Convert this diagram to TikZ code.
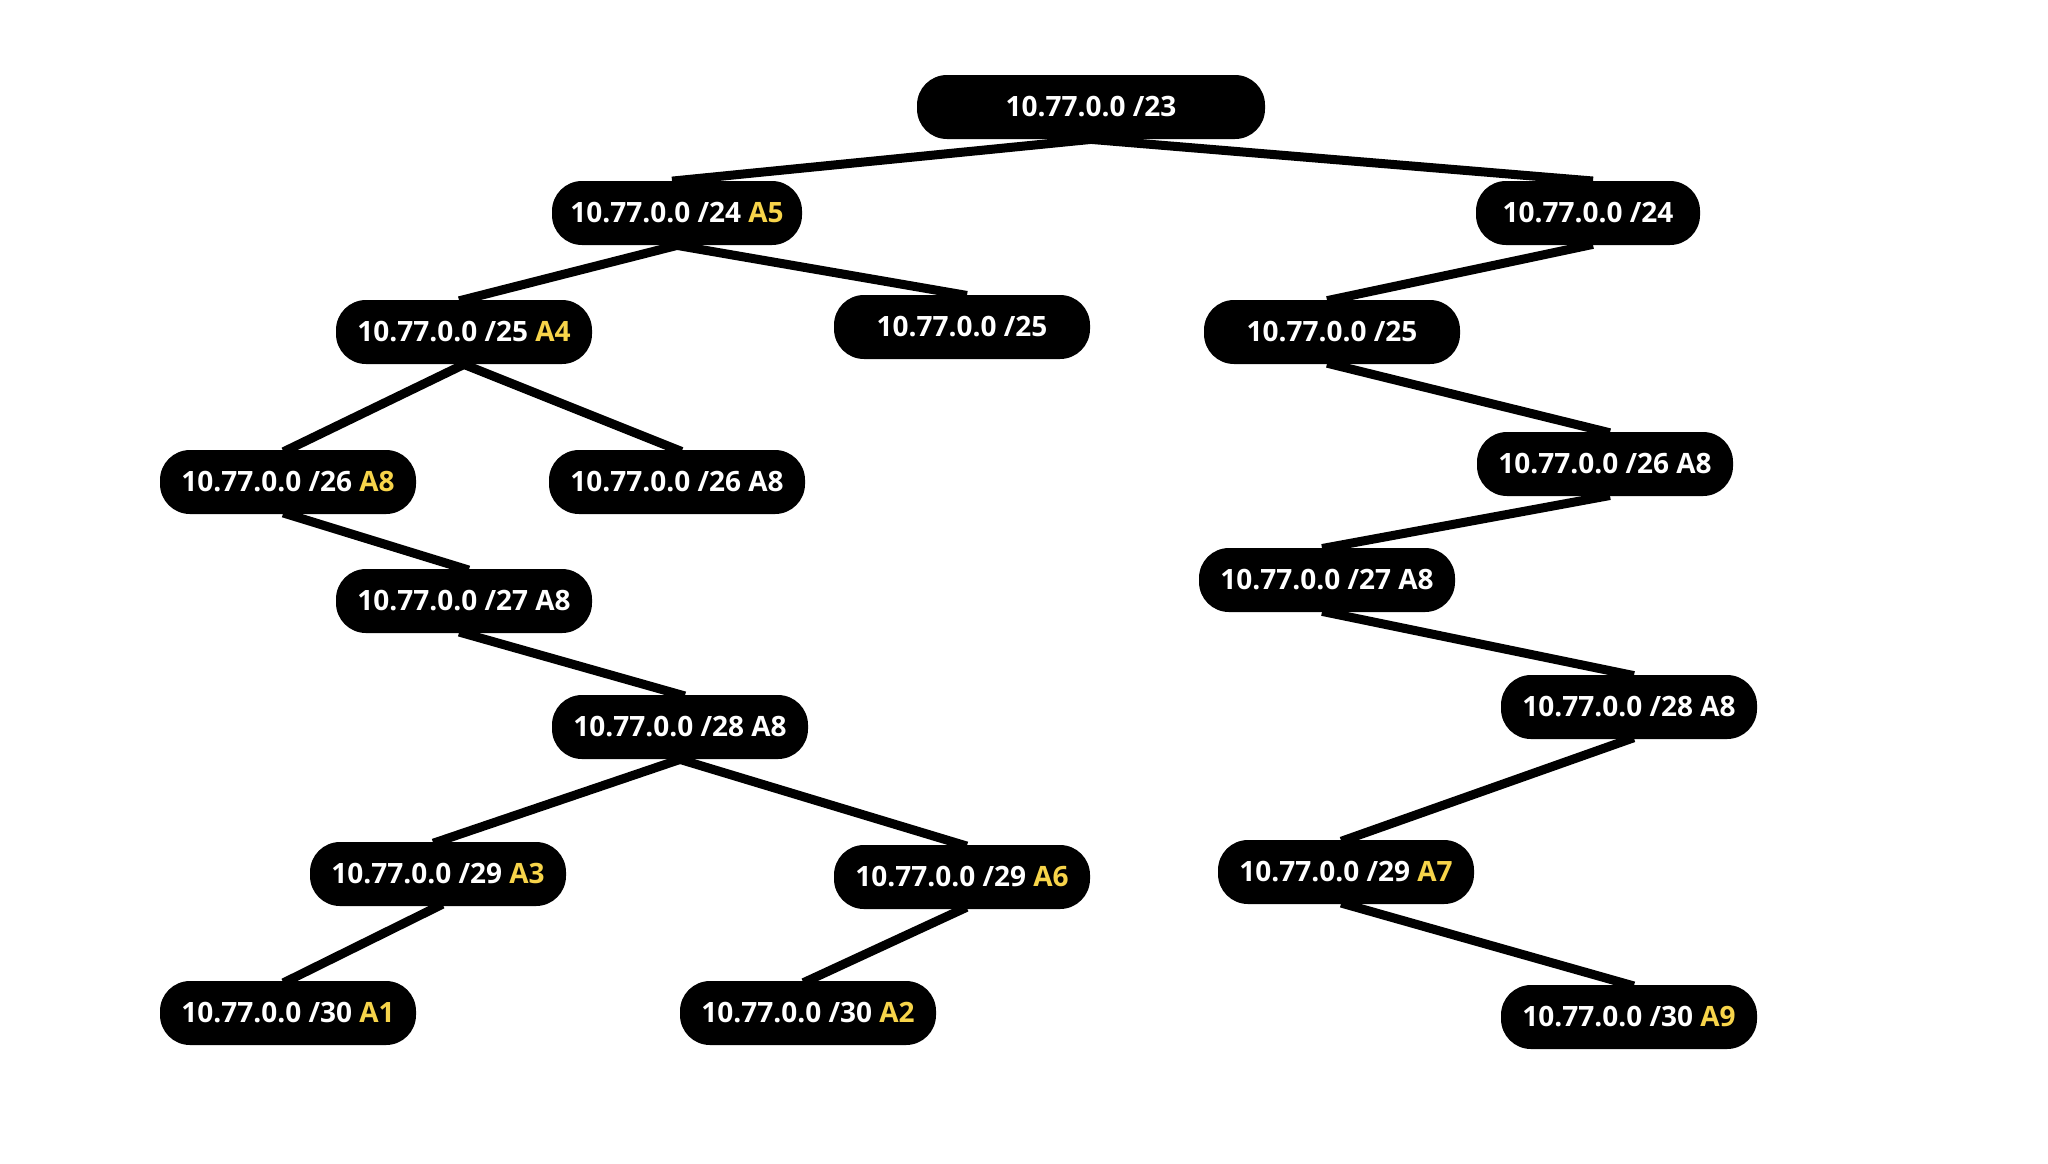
\documentclass[tikz,border=0pt]{standalone}
\usepackage{fontspec}
\setmainfont{Open Sans}
\usepackage{xcolor}
\usetikzlibrary{positioning,backgrounds}
\definecolor{ayellow}{HTML}{F7D44A}
\newcommand\alloc[1]{\textcolor{ayellow}{#1}}

\begin{document}
\begin{tikzpicture}[x=0.5pt, y=-0.5pt,
    subnet/.style={fill=black, text=white, font=\fontsize{14}{16}\selectfont\bfseries,
      rounded corners=15pt, minimum height=32pt, minimum width=128pt, inner sep=0pt},
    link/.style={line width=4.5pt, shorten <=-2.5pt, shorten >=-2.5pt}]
    \useasboundingbox (0,0) rectangle (2048,1163);
    % root and /24
    \node[subnet, minimum width=174pt] (n23) at (1091,107) {10.77.0.0 /23};
    \node[subnet, minimum width=125pt] (n24a) at (677,213) {10.77.0.0 /24 \alloc{A5}};
    \node[subnet, minimum width=112pt] (n24b) at (1588,213) {10.77.0.0 /24};
    % /25
    \node[subnet] (n25a) at (464,332) {10.77.0.0 /25 \alloc{A4}};
    \node[subnet] (n25b) at (962,327) {10.77.0.0 /25};
    \node[subnet] (n25c) at (1332,332) {10.77.0.0 /25};
    % /26
    \node[subnet] (n26a) at (288,482) {10.77.0.0 /26 \alloc{A8}};
    \node[subnet] (n26b) at (677,482) {10.77.0.0 /26 A8};
    \node[subnet] (n26c) at (1605,464) {10.77.0.0 /26 A8};
    % /27 and /28
    \node[subnet] (n27a) at (464,601) {10.77.0.0 /27 A8};
    \node[subnet] (n27b) at (1327,580) {10.77.0.0 /27 A8};
    \node[subnet] (n28a) at (680,727) {10.77.0.0 /28 A8};
    \node[subnet] (n28b) at (1629,707) {10.77.0.0 /28 A8};
    % /29
    \node[subnet] (n29a) at (438,874) {10.77.0.0 /29 \alloc{A3}};
    \node[subnet] (n29b) at (962,877) {10.77.0.0 /29 \alloc{A6}};
    \node[subnet] (n29c) at (1346,872) {10.77.0.0 /29 \alloc{A7}};
    % /30
    \node[subnet] (n30a) at (288,1013) {10.77.0.0 /30 \alloc{A1}};
    \node[subnet] (n30b) at (808,1013) {10.77.0.0 /30 \alloc{A2}};
    \node[subnet] (n30c) at (1629,1017) {10.77.0.0 /30 \alloc{A9}};

    \begin{scope}[on background layer]
    \fill[white] (0,0) rectangle (2048,1163);
    \draw[link] (n23.south) -- (n24a.north);
    \draw[link] (n23.south) -- (n24b.north);
    \draw[link] (n24a.south) -- (n25a.north);
    \draw[link] (n24a.south) -- (n25b.north);
    \draw[link] (n24b.south) -- (n25c.north);
    \draw[link] (n25a.south) -- (n26a.north);
    \draw[link] (n25a.south) -- (n26b.north);
    \draw[link] (n25c.south) -- (n26c.north);
    \draw[link] (n26a.south) -- (n27a.north);
    \draw[link] (n26c.south) -- (n27b.north);
    \draw[link] (n27a.south) -- (n28a.north);
    \draw[link] (n27b.south) -- (n28b.north);
    \draw[link] (n28a.south) -- (n29a.north);
    \draw[link] (n28a.south) -- (n29b.north);
    \draw[link] (n28b.south) -- (n29c.north);
    \draw[link] (n29a.south) -- (n30a.north);
    \draw[link] (n29b.south) -- (n30b.north);
    \draw[link] (n29c.south) -- (n30c.north);
    \end{scope}
\end{tikzpicture}
\end{document}
